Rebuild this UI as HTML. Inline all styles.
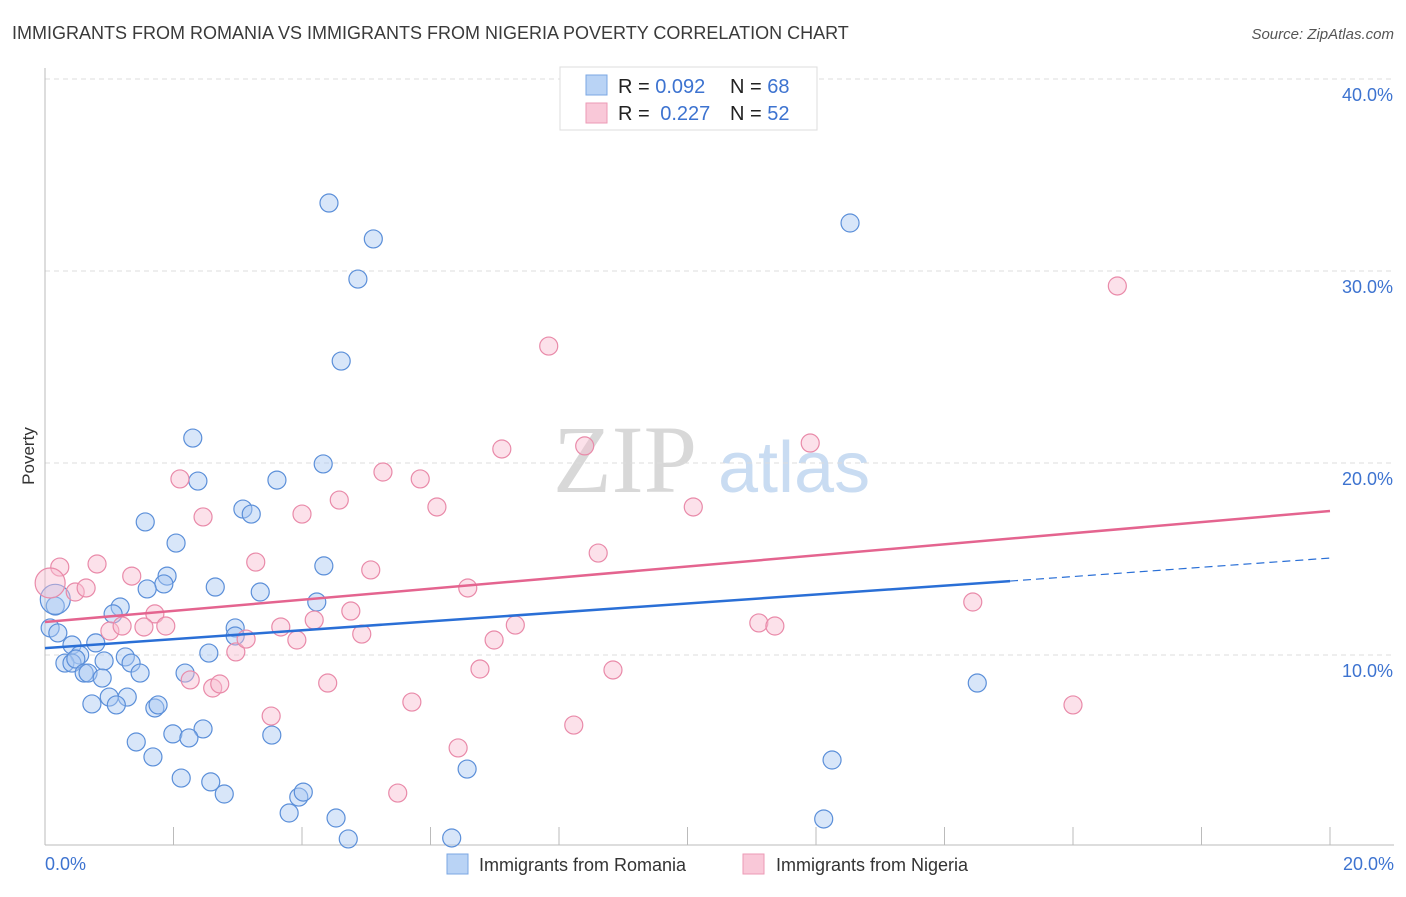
<!DOCTYPE html>
<html><head><meta charset="utf-8"><style>
body{margin:0;background:#fff;font-family:"Liberation Sans",sans-serif}
svg text{font-family:"Liberation Sans",sans-serif}
</style></head><body>
<svg id="chart" width="1406" height="892" viewBox="0 0 1406 892" xmlns="http://www.w3.org/2000/svg">
<text x="12" y="39" font-size="18" fill="#3a3a3a">IMMIGRANTS FROM ROMANIA VS IMMIGRANTS FROM NIGERIA POVERTY CORRELATION CHART</text>
<text x="1394" y="39" font-size="15" fill="#555" font-style="italic" text-anchor="end">Source: ZipAtlas.com</text>
<g>
<text x="553" y="492" font-size="96" fill="#d8d8d8" font-family="Liberation Serif" style="font-family:'Liberation Serif',serif">ZIP</text>
<text x="718" y="492" font-size="72" fill="#c9dcf2">atlas</text>
</g>
<g id="grid"></g>
<g id="axes"></g>
<g id="marks"></g>
<text transform="translate(34,456) rotate(-90)" font-size="17" fill="#333" text-anchor="middle">Poverty</text>
<g>
<rect x="560" y="67" width="257" height="63" fill="#fff" stroke="#ddd"/>
<rect x="586" y="75" width="21" height="20" fill="#b9d3f5" stroke="#7ba7e3"/>
<rect x="586" y="103" width="21" height="20" fill="#f9c8d8" stroke="#ec9ab6"/>
<text x="618" y="93" font-size="20" fill="#222">R = <tspan fill="#3d73d0">0.092</tspan><tspan x="730">N = </tspan><tspan fill="#3d73d0">68</tspan></text>
<text x="618" y="120" font-size="20" fill="#222">R = <tspan fill="#3d73d0" dx="5">0.227</tspan><tspan x="730">N = </tspan><tspan fill="#3d73d0">52</tspan></text>
</g>
<g>
<rect x="447" y="854" width="21" height="20" fill="#b9d3f5" stroke="#7ba7e3"/>
<text x="479" y="871" font-size="18" fill="#333">Immigrants from Romania</text>
<rect x="743" y="854" width="21" height="20" fill="#f9c8d8" stroke="#ec9ab6"/>
<text x="776" y="871" font-size="18" fill="#333">Immigrants from Nigeria</text>
</g>
</svg>
<script>
const yTicks=[10,20,30,40];
const yTickLabels=["10.0%","20.0%","30.0%","40.0%"];
const xTickLabels=["0.0%","20.0%"];
const romaniaX=[4.42,5.11,12.53,4.87,4.61,2.30,4.33,2.38,3.61,1.56,3.08,3.21,2.04,4.34,1.90,2.65,3.35,1.85,1.59,1.17,0.16,1.06,4.23,0.08,0.20,2.96,2.96,0.42,0.79,0.54,2.55,0.31,0.42,0.48,0.92,1.25,1.34,0.61,0.67,1.48,0.89,2.18,14.51,1.00,1.28,0.73,1.11,1.71,1.76,1.42,1.99,2.46,2.24,3.53,1.68,2.12,2.58,2.79,3.95,4.02,6.57,12.25,3.80,4.53,12.12,4.72,6.33,0.16];
const romaniaY=[33.54,31.67,32.5,29.58,25.31,21.30,19.95,19.06,19.11,16.93,17.60,17.34,15.83,14.64,14.11,13.54,13.28,13.70,13.44,12.50,12.55,12.14,12.76,11.41,11.15,11.41,10.99,10.52,10.63,10.0,10.10,9.58,9.58,9.79,9.69,9.90,9.58,9.06,9.06,9.06,8.80,9.06,8.54,7.81,7.81,7.45,7.40,7.24,7.40,5.47,5.89,6.15,5.68,5.83,4.69,3.59,3.39,2.76,2.60,2.86,4.06,4.53,1.77,1.51,1.46,0.42,0.47,12.9];
const nigeriaX=[0.23,0.81,1.35,0.47,0.64,2.10,2.46,3.28,4.00,4.58,5.26,5.84,6.10,7.11,7.84,8.40,8.61,10.09,11.91,16.69,1.71,1.88,1.01,1.20,1.54,2.97,3.13,3.67,3.92,4.19,4.76,4.93,5.07,6.58,6.99,7.32,2.26,2.61,2.72,3.52,4.40,5.71,6.77,8.84,11.11,11.36,14.44,8.23,6.43,5.49,16.0,0.08];
const nigeriaY=[14.58,14.74,14.11,13.28,13.49,19.17,17.19,14.84,17.34,18.07,19.53,19.17,17.71,20.73,26.09,20.89,15.31,17.71,21.04,29.22,12.14,11.51,11.25,11.51,11.46,10.16,10.83,11.46,10.78,11.82,12.29,11.09,14.43,13.49,10.78,11.56,8.70,8.28,8.49,6.82,8.54,7.55,9.27,9.22,11.67,11.51,12.76,6.35,5.16,2.81,7.40,13.75];
const romaniaTrend=[10.36,13.85,15.05]; // at x=0, 15.02 (end of solid), 20
const nigeriaTrend=[11.72,17.5];
const NS="http://www.w3.org/2000/svg";
const X=v=>45+v*64.25, Y=v=>847-v*19.2;
function mk(tag,attrs,parent){const e=document.createElementNS(NS,tag);for(const k in attrs)e.setAttribute(k,attrs[k]);parent.appendChild(e);return e;}
const grid=document.getElementById('grid'),axes=document.getElementById('axes'),marks=document.getElementById('marks');
yTicks.forEach((t,i)=>{
 const l=mk('line',{x1:45,x2:1394,y1:Y(t),y2:Y(t),stroke:'#ddd','stroke-dasharray':'5,4'},grid);
 
 
 const tx=mk('text',{x:1393,y:Y(t)+22,'font-size':18,fill:'#3d73d0','text-anchor':'end'},axes);
 tx.textContent=yTickLabels[i];
 
 
});
const yl=mk('line',{x1:45,x2:45,y1:68,y2:845,stroke:'#bbb'},axes);


const xl=mk('line',{x1:45,x2:1394,y1:845,y2:845,stroke:'#bbb'},axes);


for(let i=0;i<=10;i++){
 const t=mk('line',{x1:X(i*2),x2:X(i*2),y1:827,y2:845,stroke:'#bbb'},axes);
 
 
}
const x0=mk('text',{x:45,y:870,'font-size':18,fill:'#3d73d0'},axes);
x0.textContent=xTickLabels[0];


const x1=mk('text',{x:1394,y:870,'font-size':18,fill:'#3d73d0','text-anchor':'end'},axes);
x1.textContent=xTickLabels[1];


function dots(xs,ys,fill,stroke,name,bigIdx){
 xs.forEach((x,i)=>{
  const c=mk('circle',{cx:X(x),cy:Y(ys[i]),r:i===bigIdx?15:9,fill:fill,'fill-opacity':0.45,stroke:stroke,'stroke-width':1.2},marks);
  
  
 });
}
dots(romaniaX,romaniaY,'#a9c8f1','#5b8fd9','romania-point',romaniaX.length-1);
dots(nigeriaX,nigeriaY,'#f8bdd1','#e98aa9','nigeria-point',nigeriaX.length-1);
const rt=mk('line',{x1:X(0),y1:Y(romaniaTrend[0]),x2:X(15.02),y2:Y(romaniaTrend[1]),stroke:'#2a6fd6','stroke-width':2.5},marks);


const rd=mk('line',{x1:X(15.02),y1:Y(romaniaTrend[1]),x2:X(20),y2:Y(romaniaTrend[2]),stroke:'#2a6fd6','stroke-width':1.2,'stroke-dasharray':'8,5'},marks);


const nt=mk('line',{x1:X(0),y1:Y(nigeriaTrend[0]),x2:X(20),y2:Y(nigeriaTrend[1]),stroke:'#e4648f','stroke-width':2.5},marks);


</script>
</body></html>
